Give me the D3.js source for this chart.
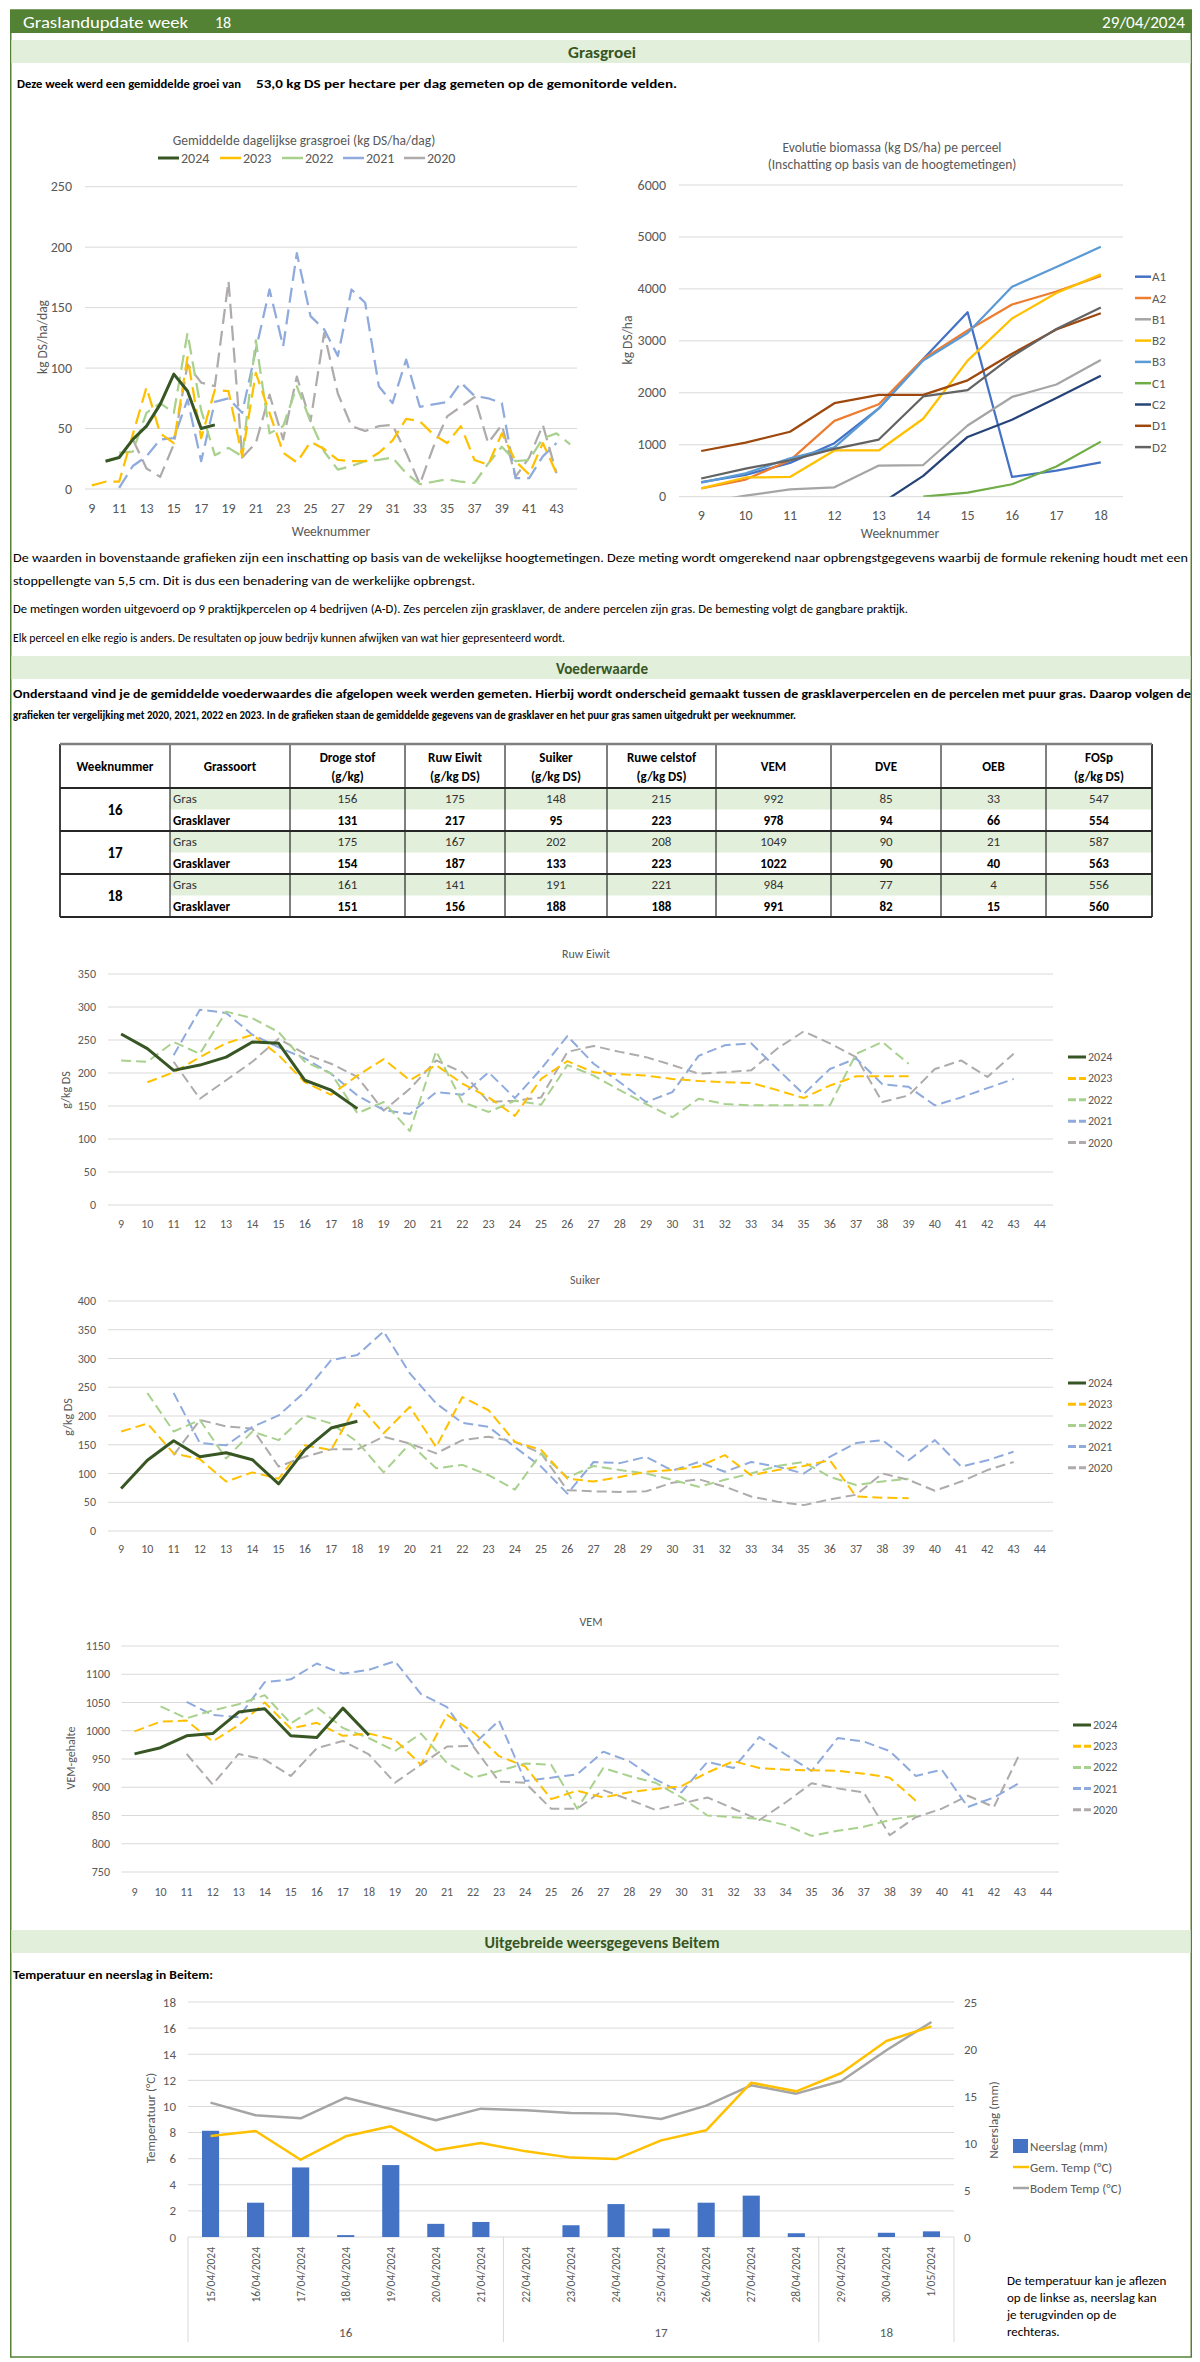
<!DOCTYPE html>
<html><head><meta charset="utf-8">
<script src="https://cdn.jsdelivr.net/npm/d3@7/dist/d3.min.js"></script>
<style>body{margin:0;background:#fff}svg text{font-family:Calibri,Carlito,Lato,"Open Sans",sans-serif}</style>
</head><body>
<svg id="c" width="1200" height="2362"></svg>
<script>
// ---------------- DATA ----------------
const weeksLong = [9,10,11,12,13,14,15,16,17,18,19,20,21,22,23,24,25,26,27,28,29,30,31,32,33,34,35,36,37,38,39,40,41,42,43,44];
const weeksShort = [9,10,11,12,13,14,15,16,17,18];
const grasLabels = [9,11,13,15,17,19,21,23,25,27,29,31,33,35,37,39,41,43];
const yearNames = ["2024","2023","2022","2021","2020"];

// Gemiddelde dagelijkse grasgroei (kg DS/ha/dag)
const gg2024 = [null,23,26,41,52,70,95,81,50,53];                     // from week 9
const gg2023 = [3,6,6,45,84,46,38,109,42,82,81,27,96,63,30,22,39,33,24,23,23,30,40,58,56,45,38,52,24,20,46,23,12,38,13]; // from week 9
const gg2022 = [30,31,63,71,63,129,65,28,34,27,123,46,52,85,56,31,16,19,23,24,26,13,4,6,8,6,5,21,35,23,24,42,46,37]; // from week 11
const gg2021 = [1,19,27,41,42,74,23,72,75,63,115,165,118,195,143,132,110,165,154,85,71,107,68,70,72,88,77,75,71,9,9,27,38]; // from week 11
const gg2020 = [27,41,17,10,37,103,88,85,172,26,38,78,41,93,56,129,79,52,48,52,53,30,4,35,60,68,76,38,53,10,26,53,13]; // from week 11

// Evolutie biomassa (kg DS/ha), weeks 9..18
const parcels = ["A1","A2","B1","B2","B3","C1","C2","D1","D2"];
const bioA1 = [280,420,650,1030,1700,2650,3550,380,500,660];
const bioA2 = [160,330,700,1460,1780,2650,3200,3700,3950,4250];
const bioB1 = [-120,20,140,180,600,610,1370,1920,2160,2630];
const bioB2 = [160,370,380,890,890,1500,2620,3430,3920,4280];
const bioB3 = [270,450,740,950,1700,2620,3150,4040,4420,4810];
const bioC1 = [null,null,null,null,null,0,80,240,580,1060];
const bioC2 = [null,null,null,null,-160,400,1150,1480,1900,2330];
const bioD1 = [880,1040,1250,1800,1960,1960,2240,2750,3220,3530];
const bioD2 = [350,540,700,920,1100,1930,2050,2700,3230,3640];

// Ruw Eiwit (g/kg DS)
const re2024 = [259,237,204,212,224,247,245,189,174,146];            // from 9
const re2023 = [186,201,224,245,258,227,186,167,196,221,189,212,184,163,135,191,218,201,198,196,191,188,186,185,174,162,181,195,195,195]; // from 10
const re2022 = [219,217,247,229,293,283,262,217,199,139,156,112,233,156,141,158,152,212,196,174,153,133,161,153,151,151,151,151,229,247,214]; // from 9
const re2021 = [227,296,291,258,239,222,199,166,144,138,171,167,201,162,206,256,214,186,156,171,226,242,245,206,168,206,222,183,179,151,163,177,191]; // from 11
const re2020 = [217,161,189,217,252,229,214,194,143,176,219,201,156,158,163,232,241,232,224,212,199,201,204,237,263,245,224,156,166,206,219,194,229]; // from 11

// Suiker (g/kg DS)
const su2024 = [74,123,157,129,136,124,82,141,179,191];              // from 9
const su2023 = [173,187,135,125,86,102,91,149,141,222,170,216,146,233,210,155,141,91,86,94,103,106,112,132,97,106,113,123,60,58,57]; // from 9
const su2022 = [240,173,193,126,173,158,201,187,155,102,152,109,115,97,72,135,93,113,106,100,89,77,89,100,113,120,94,80,86,91]; // from 10
const su2021 = [240,153,149,181,201,242,297,306,347,274,222,188,181,146,112,65,120,118,129,105,120,103,120,112,100,129,153,158,123,158,112,123,138]; // from 11
const su2020 = [132,193,182,178,112,129,142,142,164,152,135,158,164,155,135,71,69,68,69,84,90,77,60,51,45,55,63,100,89,70,86,106,120]; // from 11

// VEM
const vem2024 = [959,970,991,995,1033,1039,991,988,1040,992];         // from 9
const vem2023 = [999,1016,1018,981,1010,1050,1004,1014,991,995,984,940,1028,998,955,937,879,894,882,891,897,902,926,946,934,931,930,929,924,917,876]; // from 9
const vem2022 = [1043,1022,1036,1047,1063,1013,1042,1005,987,964,995,943,917,929,942,940,862,934,920,908,882,850,847,844,833,814,823,830,842,850]; // from 10
const vem2021 = [1051,1028,1024,1086,1091,1119,1101,1108,1123,1065,1042,975,1018,911,917,923,963,946,914,891,945,934,989,958,929,987,981,964,920,931,865,882,908]; // from 11
const vem2020 = [959,905,959,949,920,969,982,958,908,940,972,973,910,908,862,862,895,878,860,871,882,862,842,873,907,898,891,815,847,862,885,865,960]; // from 11

// Voederwaarde table
const tableHeaders = [["Weeknummer"],["Grassoort"],["Droge stof","(g/kg)"],["Ruw Eiwit","(g/kg DS)"],["Suiker","(g/kg DS)"],["Ruwe celstof","(g/kg DS)"],["VEM"],["DVE"],["OEB"],["FOSp","(g/kg DS)"]];
const tableWeeks = ["16","17","18"];
const tableTypes = ["Gras","Grasklaver"];
const tableValues = [
  [156,175,148,215,992,85,33,547],
  [131,217,95,223,978,94,66,554],
  [175,167,202,208,1049,90,21,587],
  [154,187,133,223,1022,90,40,563],
  [161,141,191,221,984,77,4,556],
  [151,156,188,188,991,82,15,560]
];

// Weather Beitem
const wDates = ["15/04/2024","16/04/2024","17/04/2024","18/04/2024","19/04/2024","20/04/2024","21/04/2024","22/04/2024","23/04/2024","24/04/2024","25/04/2024","26/04/2024","27/04/2024","28/04/2024","29/04/2024","30/04/2024","1/05/2024"];
const wRain = [11.3,3.65,7.4,0.2,7.65,1.4,1.6,0,1.25,3.5,0.9,3.65,4.4,0.4,0,0.45,0.6];
const wGemTemp = [7.74,8.12,5.92,7.71,8.48,6.64,7.2,6.56,6.08,5.97,7.4,8.17,11.82,11.16,12.56,15.01,16.13];
const wBodemTemp = [10.29,9.32,9.09,10.67,9.8,8.94,9.83,9.7,9.5,9.45,9.04,10.06,11.62,10.98,11.95,14.3,16.47];
const wWeekLabels = ["16","17","18"];
const wWeekSpans = [7,7,3];
const wLeftTicks = [0,2,4,6,8,10,12,14,16,18];
const wRightTicks = [0,5,10,15,20,25];

// ---------------- DRAW ----------------
const svg = d3.select("#c");
const defs = svg.append("defs");
const GREY = "#595959";
const C24 = "#375623", C23 = "#FFC000", C22 = "#A9D18E", C21 = "#8FAADC", C20 = "#AFABAB";

function txt(g, x, y, s, o = {}) {
  const t = g.append("text").attr("x", x).attr("y", y).text(s)
    .attr("font-size", o.size || 12).attr("fill", o.fill || "#000")
    .attr("font-weight", o.weight || "normal").attr("text-anchor", o.anchor || "start")
    .attr("dominant-baseline", "central");
  if (o.len) t.attr("textLength", o.len).attr("lengthAdjust", "spacingAndGlyphs");
  if (o.rot) t.attr("transform", `rotate(-90,${x},${y})`);
  return t;
}

// page frame + header
svg.append("rect").attr("x", 10.75).attr("y", 10).attr("width", 1180.5).attr("height", 2347)
  .attr("fill", "none").attr("stroke", "#548235").attr("stroke-width", 1.5);
svg.append("rect").attr("x", 10).attr("y", 10).attr("width", 1182).attr("height", 23).attr("fill", "#548235");
txt(svg, 23, 22, "Graslandupdate week", {size: 16, fill: "#fff", len: 165});
txt(svg, 215, 22, "18", {size: 16, fill: "#fff"});
txt(svg, 1185, 22, "29/04/2024", {size: 16, fill: "#fff", anchor: "end", len: 83});

function band(y, label, len) {
  svg.append("rect").attr("x", 11.5).attr("y", y).attr("width", 1179).attr("height", 23).attr("fill", "#E2EFDA");
  txt(svg, 602, y + 12, label, {size: 16, weight: "bold", fill: "#375623", anchor: "middle", len: len});
}
band(40, "Grasgroei", 68);
txt(svg, 17, 84, "Deze week werd een gemiddelde groei van", {size: 11.5, weight: "bold", len: 224});
txt(svg, 256, 84, "53,0 kg DS per hectare per dag gemeten op de gemonitorde velden.", {size: 11.5, weight: "bold", len: 421});

// generic weekly line chart
function weekChart(o) {
  const g = svg.append("g");
  const x = d3.scaleBand().domain(o.cats).range([o.x0, o.x1]);
  const y = d3.scaleLinear().domain(o.yDomain).range([o.yB, o.yT]);
  const cx = c => x(c) + x.bandwidth() / 2;
  g.selectAll(null).data(o.yTicks).join("line")
    .attr("x1", o.x0).attr("x2", o.x1).attr("y1", d => y(d)).attr("y2", d => y(d))
    .attr("stroke", "#D9D9D9").attr("stroke-width", 1);
  g.selectAll(null).data(o.yTicks).join("text")
    .attr("x", o.yLabelX).attr("y", d => y(d)).attr("text-anchor", "end").attr("dominant-baseline", "central")
    .attr("font-size", o.fs).attr("fill", GREY).text(d => d);
  g.selectAll(null).data(o.xLabels).join("text")
    .attr("x", d => cx(d)).attr("y", o.xLabelY).attr("text-anchor", "middle").attr("dominant-baseline", "central")
    .attr("font-size", o.fs).attr("fill", GREY).text(d => d);
  let sg = g.append("g");
  if (o.clipId) {
    defs.append("clipPath").attr("id", o.clipId).append("rect")
      .attr("x", o.x0).attr("y", o.yT - 5).attr("width", o.x1 - o.x0).attr("height", o.yB - o.yT + 5);
    sg.attr("clip-path", `url(#${o.clipId})`);
  }
  const line = d3.line().defined(d => d.v != null).x(d => cx(d.c)).y(d => y(d.v));
  o.series.forEach(s => {
    const off = o.cats.indexOf(s.start);
    const pts = s.values.map((v, i) => ({c: o.cats[off + i], v: v}));
    sg.append("path").datum(pts).attr("d", line).attr("fill", "none")
      .attr("stroke", s.color).attr("stroke-width", s.w).attr("stroke-dasharray", s.dash || null)
      .attr("stroke-linejoin", "round");
  });
  if (o.title) txt(g, o.title.x, o.title.y, o.title.text, {size: o.title.size, fill: GREY, anchor: "middle"});
  if (o.yTitle) txt(g, o.yTitle.x, o.yTitle.y, o.yTitle.text, {size: o.yTitle.size, fill: GREY, anchor: "middle", rot: true});
  if (o.xTitle) txt(g, o.xTitle.x, o.xTitle.y, o.xTitle.text, {size: o.xTitle.size, fill: GREY, anchor: "middle"});
  return {x, y, g};
}

function yearSeries(a24, a23, a22, a21, a20, st, dash, w) {
  return [
    {color: C20, w: w, dash: dash, start: st[4], values: a20},
    {color: C21, w: w, dash: dash, start: st[3], values: a21},
    {color: C22, w: w, dash: dash, start: st[2], values: a22},
    {color: C23, w: w, dash: dash, start: st[1], values: a23},
    {color: C24, w: 3, dash: null, start: st[0], values: a24}
  ];
}
const yearColors = [C24, C23, C22, C21, C20];

// --- Grasgroei chart ---
weekChart({
  cats: weeksLong, x0: 85, x1: 577, yDomain: [0, 250], yB: 489, yT: 186.7,
  yTicks: [0, 50, 100, 150, 200, 250], yLabelX: 72, xLabels: grasLabels, xLabelY: 508, fs: 14,
  series: yearSeries(gg2024, gg2023, gg2022, gg2021, gg2020, [9, 9, 11, 11, 11], "15,7", 2.25),
  title: {x: 304, y: 140, text: "Gemiddelde dagelijkse grasgroei (kg DS/ha/dag)", size: 13.5},
  yTitle: {x: 42, y: 337, text: "kg DS/ha/dag", size: 13.5},
  xTitle: {x: 331, y: 531, text: "Weeknummer", size: 13.5}
});
(function () {
  const lx = [158, 220, 282, 343, 404];
  const lg = svg.append("g");
  yearNames.forEach((n, i) => {
    lg.append("line").attr("x1", lx[i]).attr("x2", lx[i] + 21).attr("y1", 158).attr("y2", 158)
      .attr("stroke", yearColors[i]).attr("stroke-width", i === 0 ? 3 : 2.5);
    txt(lg, lx[i] + 23, 158, n, {size: 14, fill: GREY});
  });
})();

// --- Biomassa chart ---
const bioColors = ["#4472C4", "#ED7D31", "#A5A5A5", "#FFC000", "#5B9BD5", "#70AD47", "#264478", "#9E480E", "#636363"];
const bioData = [bioA1, bioA2, bioB1, bioB2, bioB3, bioC1, bioC2, bioD1, bioD2];
weekChart({
  cats: weeksShort, x0: 679, x1: 1123, yDomain: [0, 6000], yB: 496.7, yT: 185,
  yTicks: [0, 1000, 2000, 3000, 4000, 5000, 6000], yLabelX: 666, xLabels: weeksShort, xLabelY: 515, fs: 14,
  clipId: "bioclip",
  series: bioData.map((v, i) => ({color: bioColors[i], w: 2.25, start: 9, values: v})),
  yTitle: {x: 627, y: 340, text: "kg DS/ha", size: 13.5},
  xTitle: {x: 900, y: 533, text: "Weeknummer", size: 13.5}
});
txt(svg, 892, 147, "Evolutie biomassa (kg DS/ha) pe perceel", {size: 13.5, fill: GREY, anchor: "middle"});
txt(svg, 892, 164, "(Inschatting op basis van de hoogtemetingen)", {size: 13.5, fill: GREY, anchor: "middle"});
parcels.forEach((p, i) => {
  const yy = 276.7 + i * 21.3;
  svg.append("line").attr("x1", 1135).attr("x2", 1151).attr("y1", yy).attr("y2", yy).attr("stroke", bioColors[i]).attr("stroke-width", 2.5);
  txt(svg, 1152, yy, p, {size: 13, fill: GREY});
});

// --- paragraphs ---
txt(svg, 13, 558, "De waarden in bovenstaande grafieken zijn een inschatting op basis van de wekelijkse hoogtemetingen. Deze meting wordt omgerekend naar opbrengstgegevens waarbij de formule rekening houdt met een", {size: 12, len: 1175});
txt(svg, 13, 581, "stoppellengte van 5,5 cm. Dit is dus een benadering van de werkelijke opbrengst.", {size: 12, len: 462});
txt(svg, 13, 609, "De metingen worden uitgevoerd op 9 praktijkpercelen op 4 bedrijven (A-D). Zes percelen zijn grasklaver, de andere percelen zijn gras. De bemesting volgt de gangbare praktijk.", {size: 12, len: 895});
txt(svg, 13, 638, "Elk perceel en elke regio is anders. De resultaten op jouw bedrijv kunnen afwijken van wat hier gepresenteerd wordt.", {size: 12, len: 552});
band(656, "Voederwaarde", 92);
txt(svg, 13, 694, "Onderstaand vind je de gemiddelde voederwaardes die afgelopen week werden gemeten. Hierbij wordt onderscheid gemaakt tussen de grasklaverpercelen en de percelen met puur gras. Daarop volgen de", {size: 11.5, weight: "bold", len: 1178});
txt(svg, 13, 715, "grafieken ter vergelijking met 2020, 2021, 2022 en 2023. In de grafieken staan de gemiddelde gegevens van de grasklaver en het puur gras samen uitgedrukt per weeknummer.", {size: 11.5, weight: "bold", len: 783});

// --- table ---
(function () {
  const cols = [60, 170, 290, 405, 505, 607, 716, 831, 941, 1046, 1152];
  const top = 744, hH = 44, rH = 21.5;
  const tg = svg.append("g");
  const rowY = i => top + hH + i * rH;
  tableValues.forEach((r, i) => {
    if (i % 2 === 0) tg.append("rect").attr("x", cols[1]).attr("y", rowY(i)).attr("width", cols[10] - cols[1]).attr("height", rH).attr("fill", "#E2EFDA");
  });
  tableHeaders.forEach((h, j) => {
    const cx = (cols[j] + cols[j + 1]) / 2;
    if (h.length === 1) txt(tg, cx, top + hH / 2, h[0], {size: 13, weight: "bold", anchor: "middle"});
    else { txt(tg, cx, top + 13, h[0], {size: 13, weight: "bold", anchor: "middle"}); txt(tg, cx, top + 32, h[1], {size: 13, weight: "bold", anchor: "middle"}); }
  });
  tableValues.forEach((r, i) => {
    const b = i % 2 === 1;
    const yy = rowY(i) + rH / 2;
    txt(tg, cols[1] + 3, yy, tableTypes[i % 2], {size: 13, weight: b ? "bold" : "normal", fill: b ? "#000" : "#333"});
    r.forEach((v, j) => {
      txt(tg, (cols[j + 2] + cols[j + 3]) / 2, yy, v, {size: 13, weight: b ? "bold" : "normal", fill: b ? "#000" : "#333", anchor: "middle"});
    });
  });
  tableWeeks.forEach((w, k) => txt(tg, (cols[0] + cols[1]) / 2, rowY(2 * k) + rH, w, {size: 15, weight: "bold", anchor: "middle"}));
  const bottom = rowY(6);
  cols.forEach((c, j) => tg.append("line").attr("x1", c).attr("x2", c).attr("y1", top).attr("y2", bottom)
    .attr("stroke", "#000").attr("stroke-width", j === 0 || j === 10 ? 1.5 : 1));
  [top, top + hH, rowY(2), rowY(4), bottom].forEach((yy, k) => tg.append("line").attr("x1", cols[0]).attr("x2", cols[10])
    .attr("y1", yy).attr("y2", yy).attr("stroke", k === 0 ? "#7F7F7F" : "#262626").attr("stroke-width", k === 0 ? 2.5 : 2));
})();

// --- Ruw Eiwit, Suiker, VEM ---
function lowerLegend(x0, y0, step) {
  yearNames.forEach((n, i) => {
    const yy = y0 + i * step;
    svg.append("line").attr("x1", x0).attr("x2", x0 + 18).attr("y1", yy).attr("y2", yy)
      .attr("stroke", yearColors[i]).attr("stroke-width", 3).attr("stroke-dasharray", i === 0 ? null : "8,3");
    txt(svg, x0 + 20, yy, n, {size: 12, fill: GREY});
  });
}
weekChart({
  cats: weeksLong, x0: 108, x1: 1053, yDomain: [0, 350], yB: 1205, yT: 974,
  yTicks: [0, 50, 100, 150, 200, 250, 300, 350], yLabelX: 96, xLabels: weeksLong, xLabelY: 1224, fs: 12,
  series: yearSeries(re2024, re2023, re2022, re2021, re2020, [9, 10, 9, 11, 11], "10,5", 2),
  title: {x: 586, y: 954, text: "Ruw Eiwit", size: 12},
  yTitle: {x: 66, y: 1090, text: "g/kg DS", size: 12}
});
lowerLegend(1068, 1057, 21.4);

weekChart({
  cats: weeksLong, x0: 108, x1: 1053, yDomain: [0, 400], yB: 1531, yT: 1301,
  yTicks: [0, 50, 100, 150, 200, 250, 300, 350, 400], yLabelX: 96, xLabels: weeksLong, xLabelY: 1549, fs: 12,
  series: yearSeries(su2024, su2023, su2022, su2021, su2020, [9, 9, 10, 11, 11], "10,5", 2),
  title: {x: 585, y: 1280, text: "Suiker", size: 12},
  yTitle: {x: 68, y: 1417, text: "g/kg DS", size: 12}
});
lowerLegend(1068, 1383, 21.2);

weekChart({
  cats: weeksLong, x0: 121.5, x1: 1059, yDomain: [750, 1150], yB: 1872, yT: 1646,
  yTicks: [750, 800, 850, 900, 950, 1000, 1050, 1100, 1150], yLabelX: 110, xLabels: weeksLong, xLabelY: 1892, fs: 12,
  series: yearSeries(vem2024, vem2023, vem2022, vem2021, vem2020, [9, 9, 10, 11, 11], "10,5", 2),
  title: {x: 591, y: 1622, text: "VEM", size: 12},
  yTitle: {x: 71, y: 1758, text: "VEM-gehalte", size: 12}
});
lowerLegend(1073, 1725, 21.2);

// --- Weather ---
band(1930, "Uitgebreide weersgegevens Beitem", 235);
txt(svg, 13, 1975, "Temperatuur en neerslag in Beitem:", {size: 11.5, weight: "bold", len: 200});
(function () {
  const wg = svg.append("g");
  const x = d3.scaleBand().domain(wDates).range([188, 954]).paddingInner(0.62).paddingOuter(0.31);
  const step = x.step();
  const yL = d3.scaleLinear().domain([0, 18]).range([2237, 2002]);
  const yR = d3.scaleLinear().domain([0, 25]).range([2237, 2002]);
  const cx = d => x(d) + x.bandwidth() / 2;
  wg.selectAll(null).data(wLeftTicks).join("line").attr("x1", 188).attr("x2", 954)
    .attr("y1", d => yL(d)).attr("y2", d => yL(d)).attr("stroke", "#D9D9D9");
  wg.selectAll(null).data(wLeftTicks).join("text").attr("x", 176).attr("y", d => yL(d))
    .attr("text-anchor", "end").attr("dominant-baseline", "central").attr("font-size", 13).attr("fill", GREY).text(d => d);
  wg.selectAll(null).data(wRightTicks).join("text").attr("x", 964).attr("y", d => yR(d))
    .attr("text-anchor", "start").attr("dominant-baseline", "central").attr("font-size", 13).attr("fill", GREY).text(d => d);
  wg.selectAll(null).data(wDates.map((d, i) => ({d, v: wRain[i]}))).join("rect")
    .attr("x", d => x(d.d)).attr("width", x.bandwidth()).attr("y", d => yR(d.v)).attr("height", d => yR(0) - yR(d.v))
    .attr("fill", "#4472C4");
  const lineL = d3.line().x(d => cx(d.d)).y(d => yL(d.v));
  wg.append("path").datum(wDates.map((d, i) => ({d, v: wBodemTemp[i]}))).attr("d", lineL)
    .attr("fill", "none").attr("stroke", "#A5A5A5").attr("stroke-width", 2.5).attr("stroke-linejoin", "round");
  wg.append("path").datum(wDates.map((d, i) => ({d, v: wGemTemp[i]}))).attr("d", lineL)
    .attr("fill", "none").attr("stroke", "#FFC000").attr("stroke-width", 2.5).attr("stroke-linejoin", "round");
  wDates.forEach(d => txt(wg, cx(d), 2247, d, {size: 11.5, fill: GREY, anchor: "end", rot: true}));
  let acc = 0;
  const bounds = [188];
  wWeekSpans.forEach((n, k) => {
    const a = 188 + acc * step; acc += n; const b = 188 + acc * step;
    bounds.push(b);
    txt(wg, (a + b) / 2, 2332, wWeekLabels[k], {size: 13, fill: GREY, anchor: "middle"});
  });
  bounds.forEach(b => wg.append("line").attr("x1", b).attr("x2", b).attr("y1", 2237).attr("y2", 2342).attr("stroke", "#D9D9D9"));
  txt(wg, 150, 2118, "Temperatuur (°C)", {size: 13, fill: GREY, anchor: "middle", rot: true});
  txt(wg, 993, 2120, "Neerslag (mm)", {size: 13, fill: GREY, anchor: "middle", rot: true});
  wg.append("rect").attr("x", 1013).attr("y", 2139).attr("width", 15).attr("height", 14).attr("fill", "#4472C4");
  txt(wg, 1030, 2146, "Neerslag (mm)", {size: 13, fill: GREY});
  wg.append("line").attr("x1", 1013).attr("x2", 1029).attr("y1", 2167).attr("y2", 2167).attr("stroke", "#FFC000").attr("stroke-width", 2.5);
  txt(wg, 1030, 2167, "Gem. Temp (°C)", {size: 13, fill: GREY});
  wg.append("line").attr("x1", 1013).attr("x2", 1029).attr("y1", 2188).attr("y2", 2188).attr("stroke", "#A5A5A5").attr("stroke-width", 2.5);
  txt(wg, 1030, 2188, "Bodem Temp (°C)", {size: 13, fill: GREY});
  ["De temperatuur kan je aflezen", "op de linkse as, neerslag kan", "je terugvinden op de", "rechteras."]
    .forEach((s, i) => txt(wg, 1007, 2280 + i * 17, s, {size: 13}));
})();
</script>
</body></html>
